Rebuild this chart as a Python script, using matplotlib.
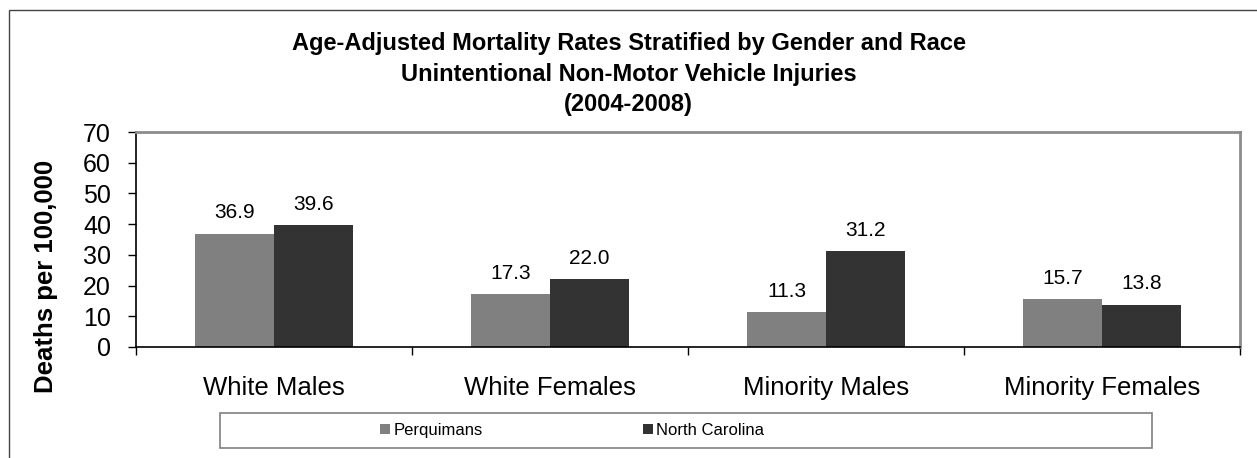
import matplotlib
matplotlib.use("Agg")
import matplotlib.pyplot as plt
from matplotlib.patches import Rectangle
import numpy as np

plt.rcParams['font.family'] = ['Liberation Sans', 'DejaVu Sans']

categories = ["White Males", "White Females", "Minority Males", "Minority Females"]
perquimans = [36.9, 17.3, 11.3, 15.7]
north_carolina = [39.6, 22.0, 31.2, 13.8]
series_names = ["Perquimans", "North Carolina"]
yticks = [0, 10, 20, 30, 40, 50, 60, 70]

W, H = 1257, 458
fig = plt.figure(figsize=(W / 100, H / 100), dpi=100)
ax = fig.add_axes([136 / W, 1 - 347 / H, (1240 - 136) / W, (347 - 132) / H])

x = np.arange(len(categories))
bw = 0.286
b1 = ax.bar(x - bw / 2, perquimans, bw, color='#808080', label=series_names[0])
b2 = ax.bar(x + bw / 2, north_carolina, bw, color='#333333', label=series_names[1])

for bars, vals in [(b1, perquimans), (b2, north_carolina)]:
    for b, v in zip(bars, vals):
        ax.annotate(f"{v:.1f}", (b.get_x() + b.get_width() / 2, v),
                    xytext=(0, 11), textcoords='offset points',
                    ha='center', va='baseline', fontsize=15)

ax.set_xlim(-0.5, len(categories) - 0.5)
ax.set_ylim(0, 70)
ax.set_yticks(yticks)
ax.tick_params(axis='y', direction='out', length=6, width=1, pad=12, labelsize=18)

ax.set_xticks(x)
ax.set_xticklabels(categories, fontsize=18.5)
ax.set_xticks(np.arange(len(categories) + 1) - 0.5, minor=True)
ax.tick_params(axis='x', which='major', length=0, pad=21)
ax.tick_params(axis='x', which='minor', direction='out', length=6, width=1)

for s in ['left', 'bottom']:
    ax.spines[s].set_color('black')
    ax.spines[s].set_linewidth(1.2)
for s in ['top', 'right']:
    ax.spines[s].set_color('#8c8c8c')
    ax.spines[s].set_linewidth(2)

ax.set_ylabel("Deaths per 100,000", fontsize=18.5, fontweight='bold')
ax.yaxis.set_label_coords(-(136 - 58) / (1240 - 136), 0.328)

fig.text(0.5, 1 - 74 / H,
         "Age-Adjusted Mortality Rates Stratified by Gender and Race\n"
         "Unintentional Non-Motor Vehicle Injuries\n(2004-2008)",
         ha='center', va='center', fontsize=17, fontweight='bold', linespacing=1.4)

# outer chart border
fig.patches.append(Rectangle((9 / W, -0.1), 1.2, 1.1 - 10 / H, transform=fig.transFigure,
                             fill=False, edgecolor='#444444', linewidth=1))
# legend box
fig.patches.append(Rectangle((220 / W, 1 - 448 / H), 932 / W, 35 / H, transform=fig.transFigure,
                             fill=False, edgecolor='#808080', linewidth=1.2))

fig.legend(handles=[b1, b2], loc='center left', bbox_to_anchor=(372 / W, 1 - 430.5 / H),
           ncol=2, frameon=False, fontsize=12, handlelength=0.6, handleheight=0.6,
           handletextpad=0.2, columnspacing=9.6, borderpad=0)

fig.savefig("out.png", dpi=100)
